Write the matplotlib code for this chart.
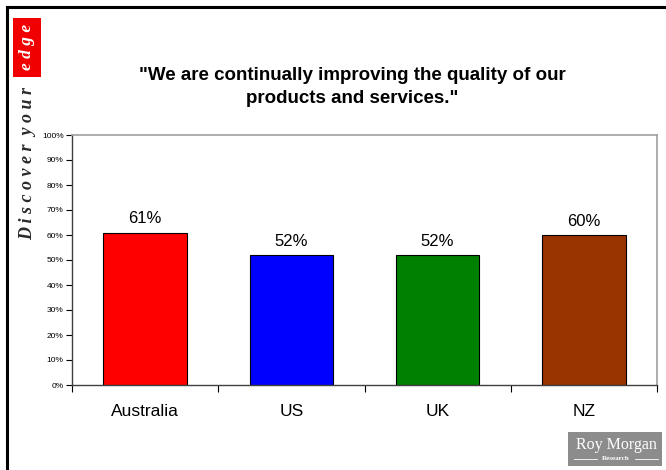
import numpy as np
import matplotlib
matplotlib.use('Agg')
import matplotlib.pyplot as plt
from matplotlib.patches import Rectangle
from matplotlib.lines import Line2D
from matplotlib.ticker import FixedLocator, PercentFormatter

countries = ['Australia', 'US', 'UK', 'NZ']
agree_pct = [61, 52, 52, 60]
bar_colors = ['#FF0000', '#0000FF', '#008000', '#993300']
y_ticks = list(range(0, 101, 10))

W, H = 666, 470
fig = plt.figure(figsize=(W / 100, H / 100), dpi=100)
plt.rcParams['font.family'] = ['Liberation Sans', 'DejaVu Sans']

def fx(px):
    return px / W

def fy(py):
    return 1 - py / H

# slide frame: left and top rules
fig.add_artist(Line2D([fx(6.5), fx(6.5)], [0, fy(6.5)], color='black', lw=2.2,
                      transform=fig.transFigure))
fig.add_artist(Line2D([fx(6.5), 1], [fy(6.5), fy(6.5)], color='black', lw=2.2,
                      transform=fig.transFigure))

# "Discover your edge" strap, rotated up the left side
fig.add_artist(Rectangle((fx(13), fy(77)), fx(41) - fx(13), fy(18) - fy(77),
                         transform=fig.transFigure, facecolor='#F00000',
                         edgecolor='none'))
serif = ['Liberation Serif', 'DejaVu Serif']
fig.text(fx(27), fy(46.5), 'e d g e', rotation=90, ha='center', va='center',
         color='white', fontsize=12.5, fontstyle='italic', fontweight='bold',
         family=serif)
fig.text(fx(27.5), fy(163), 'D i s c o v e r  y o u r', rotation=90,
         ha='center', va='center', color='#2a2a2a', fontsize=13,
         fontstyle='italic', fontweight='bold', family=serif)

fig.text(fx(352), fy(87), '"We are continually improving the quality of our\nproducts and services."',
         ha='center', va='center', fontsize=13.5, fontweight='bold',
         linespacing=1.5)

# chart area
ax = fig.add_axes([fx(72), fy(385), fx(657) - fx(72), fy(135) - fy(385)])
x = np.arange(len(countries))
bars = ax.bar(x, agree_pct, width=0.57, color=bar_colors, edgecolor='black',
              linewidth=0.8, zorder=2)
for xi, v in zip(x, agree_pct):
    ax.text(xi, v + 2.6, f'{v}%', ha='center', va='bottom', fontsize=12)

ax.set_xlim(-0.5, len(countries) - 0.5)
ax.set_ylim(0, 100)
ax.set_yticks(y_ticks)
ax.yaxis.set_major_formatter(PercentFormatter(decimals=0))
ax.tick_params(axis='y', labelsize=6, length=4, width=0.8, pad=2, direction='out')

# category labels centred, tick marks between categories
ax.xaxis.set_major_locator(FixedLocator(np.arange(-0.5, len(countries), 1.0)))
ax.xaxis.set_minor_locator(FixedLocator(x))
ax.set_xticklabels([])
ax.set_xticklabels(countries, minor=True)
ax.tick_params(axis='x', which='major', length=5, width=0.8, direction='out')
ax.tick_params(axis='x', which='minor', length=0, labelsize=12.5, pad=14)

for side in ('top', 'right'):
    ax.spines[side].set_color('#a0a0a0')
    ax.spines[side].set_linewidth(1.2)
for side in ('left', 'bottom'):
    ax.spines[side].set_color('#404040')
    ax.spines[side].set_linewidth(1.0)

# company badge, bottom right
fig.add_artist(Rectangle((fx(568), fy(466)), fx(662) - fx(568), fy(432) - fy(466),
                         transform=fig.transFigure, facecolor='#8c8c8c',
                         edgecolor='none'))
fig.text(fx(616), fy(445), 'Roy Morgan', ha='center', va='center',
         color='white', fontsize=11.5, family=serif)
fig.text(fx(616), fy(459), 'Research', ha='center', va='center',
         color='white', fontsize=5, fontweight='bold', family=serif)
for x0, x1 in ((574, 597), (635, 658)):
    fig.add_artist(Line2D([fx(x0), fx(x1)], [fy(459), fy(459)], color='white',
                          lw=0.6, transform=fig.transFigure))

fig.savefig('out.png', dpi=100)
